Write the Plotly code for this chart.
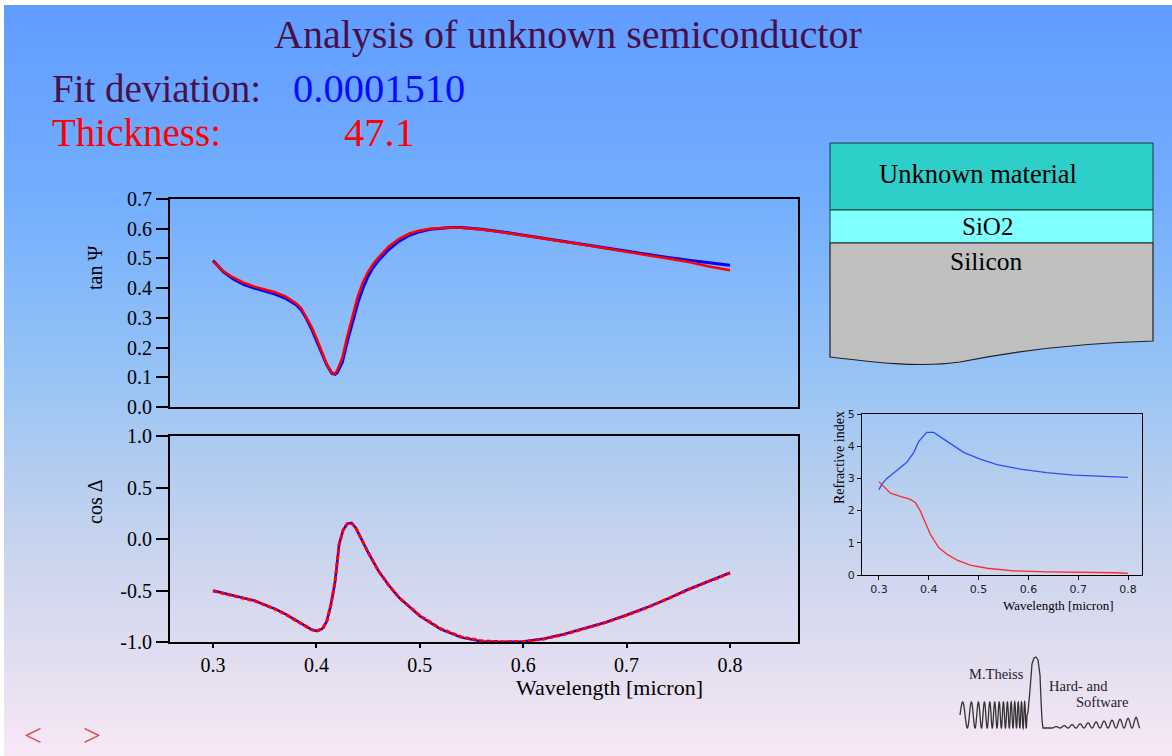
import base64
import numpy as np
import plotly.graph_objects as go

W, H = 1172, 756

# ---- tan(Psi): measured (blue) and fitted (red) ----
wl_tan = [0.300, 0.305, 0.31, 0.32, 0.33, 0.34, 0.35, 0.36, 0.37, 0.38, 0.385, 0.39, 0.395,
          0.40, 0.405, 0.41, 0.415, 0.418, 0.42, 0.425, 0.43, 0.435, 0.44, 0.445, 0.45, 0.455,
          0.46, 0.47, 0.48, 0.49, 0.50, 0.51, 0.52, 0.53, 0.54, 0.56, 0.58, 0.60, 0.62, 0.64,
          0.66, 0.68, 0.70, 0.72, 0.74, 0.76, 0.78, 0.80]
tan_meas = [0.493, 0.474, 0.455, 0.430, 0.412, 0.400, 0.390, 0.380, 0.366, 0.345, 0.328, 0.300,
            0.265, 0.225, 0.180, 0.142, 0.113, 0.110, 0.115, 0.150, 0.222, 0.290, 0.350, 0.400,
            0.440, 0.470, 0.493, 0.530, 0.558, 0.578, 0.590, 0.598, 0.602, 0.604, 0.604, 0.598,
            0.589, 0.578, 0.567, 0.556, 0.545, 0.534, 0.523, 0.513, 0.503, 0.494, 0.485, 0.477]
tan_fit = [0.490, 0.472, 0.457, 0.435, 0.418, 0.405, 0.396, 0.386, 0.372, 0.350, 0.334, 0.305,
           0.272, 0.232, 0.185, 0.145, 0.115, 0.112, 0.122, 0.165, 0.240, 0.310, 0.372, 0.420,
           0.455, 0.482, 0.503, 0.540, 0.566, 0.584, 0.594, 0.600, 0.603, 0.604, 0.603, 0.597,
           0.588, 0.578, 0.567, 0.556, 0.545, 0.533, 0.522, 0.511, 0.500, 0.488, 0.473, 0.460]

# ---- cos(Delta): measured (blue) and fitted (red, dashed) ----
wl_cos = [0.30, 0.32, 0.34, 0.36, 0.37, 0.38, 0.39, 0.395, 0.40, 0.403, 0.406, 0.41, 0.414,
          0.418, 0.422, 0.426, 0.43, 0.434, 0.438, 0.445, 0.45, 0.46, 0.47, 0.48, 0.49, 0.50,
          0.52, 0.54, 0.56, 0.58, 0.60, 0.62, 0.64, 0.66, 0.68, 0.70, 0.72, 0.74, 0.76, 0.78, 0.80]
cos_meas = [-0.500, -0.548, -0.598, -0.678, -0.728, -0.788, -0.852, -0.878, -0.893, -0.885,
            -0.868, -0.800, -0.640, -0.420, -0.050, 0.090, 0.150, 0.155, 0.110, -0.030, -0.130,
            -0.310, -0.450, -0.570, -0.660, -0.748, -0.875, -0.955, -0.995, -1.000, -0.995,
            -0.968, -0.922, -0.868, -0.808, -0.738, -0.663, -0.578, -0.488, -0.408, -0.328]
cos_fit = [-0.505, -0.550, -0.600, -0.680, -0.730, -0.790, -0.855, -0.880, -0.895, -0.885,
           -0.870, -0.800, -0.640, -0.420, -0.050, 0.090, 0.150, 0.155, 0.110, -0.030, -0.130,
           -0.310, -0.450, -0.570, -0.660, -0.745, -0.870, -0.950, -0.990, -0.998, -0.997,
           -0.970, -0.925, -0.870, -0.810, -0.740, -0.665, -0.580, -0.490, -0.410, -0.330]

# ---- optical constants of the unknown layer ----
wl_n = [0.300, 0.306, 0.316, 0.336, 0.356, 0.370, 0.380, 0.396, 0.410, 0.430, 0.450, 0.470,
        0.503, 0.537, 0.584, 0.637, 0.691, 0.751, 0.800]
n_vals = [2.65, 2.82, 3.00, 3.24, 3.50, 3.81, 4.15, 4.43, 4.43, 4.22, 4.01, 3.81, 3.60, 3.43,
          3.29, 3.18, 3.10, 3.06, 3.03]
wl_k = [0.300, 0.309, 0.323, 0.343, 0.363, 0.373, 0.383, 0.393, 0.403, 0.420, 0.437, 0.457,
        0.483, 0.517, 0.570, 0.637, 0.704, 0.778, 0.800]
k_vals = [2.90, 2.75, 2.54, 2.44, 2.35, 2.25, 1.99, 1.63, 1.27, 0.85, 0.64, 0.46, 0.31, 0.21,
          0.13, 0.10, 0.09, 0.07, 0.05]

tan_ticks = [0.0, 0.1, 0.2, 0.3, 0.4, 0.5, 0.6, 0.7]
cos_ticks = [-1.0, -0.5, 0.0, 0.5, 1.0]
wl_ticks = [0.3, 0.4, 0.5, 0.6, 0.7, 0.8]
n_ticks = [0, 1, 2, 3, 4, 5]

SERIF = "Liberation Serif"
SANS = "DejaVu Sans"


def fx(p):
    return p / W


def fy(p):
    return 1 - p / H


fig = go.Figure()

fig.add_trace(go.Scatter(x=wl_tan, y=tan_meas, mode="lines", line=dict(color="#0000ff", width=3),
                         xaxis="x", yaxis="y"))
fig.add_trace(go.Scatter(x=wl_tan, y=tan_fit, mode="lines", line=dict(color="#ff0000", width=2.5),
                         xaxis="x", yaxis="y"))
fig.add_trace(go.Scatter(x=wl_cos, y=cos_meas, mode="lines", line=dict(color="#0000ff", width=2.5),
                         xaxis="x2", yaxis="y2"))
fig.add_trace(go.Scatter(x=wl_cos, y=cos_fit, mode="lines",
                         line=dict(color="#ff0000", width=3, dash="5px,2px"),
                         xaxis="x2", yaxis="y2"))
fig.add_trace(go.Scatter(x=wl_n, y=n_vals, mode="lines", line=dict(color="#2f4cff", width=1.3),
                         xaxis="x3", yaxis="y3"))
fig.add_trace(go.Scatter(x=wl_k, y=k_vals, mode="lines", line=dict(color="#ff2a2a", width=1.3),
                         xaxis="x3", yaxis="y3"))

main_x_dom = [fx(170), fx(798)]
x_range = [0.2584, 0.8658]
frame = dict(showline=True, linecolor="black", linewidth=2, mirror=True, showgrid=False,
             zeroline=False, automargin=False)
thin = dict(showline=True, linecolor="black", linewidth=1, mirror=True, showgrid=False,
            zeroline=False, automargin=False)

layout = dict(
    template="none",
    width=W, height=H, margin=dict(l=0, r=0, t=0, b=0, pad=0, autoexpand=False),
    showlegend=False, paper_bgcolor="white", plot_bgcolor="rgba(0,0,0,0)",
    xaxis=dict(domain=main_x_dom, range=x_range, anchor="y", showticklabels=False, ticks="",
               **frame),
    yaxis=dict(domain=[fy(407), fy(199)], range=[0, 0.7], anchor="x", tickmode="array",
               tickvals=tan_ticks, ticktext=[f"{v:.1f}" for v in tan_ticks], ticks="outside",
               ticklen=12, tickwidth=2, tickcolor="black",
               tickfont=dict(family=SERIF, size=20, color="black"), **frame),
    xaxis2=dict(domain=main_x_dom, range=x_range, anchor="y2", tickmode="array",
                tickvals=wl_ticks, ticktext=[f"{v:.1f}" for v in wl_ticks], ticks="outside",
                ticklen=4, tickwidth=2, tickcolor="black",
                tickfont=dict(family=SERIF, size=20, color="black"), **frame),
    yaxis2=dict(domain=[fy(642), fy(436)], range=[-1, 1], anchor="x2", tickmode="array",
                tickvals=cos_ticks, ticktext=[f"{v:.1f}" for v in cos_ticks], ticks="outside",
                ticklen=12, tickwidth=2, tickcolor="black",
                tickfont=dict(family=SERIF, size=20, color="black"), **frame),
    xaxis3=dict(domain=[fx(862), fx(1142)], range=[0.266, 0.828], anchor="y3", tickmode="array",
                tickvals=wl_ticks, ticktext=[f"{v:.1f}" for v in wl_ticks], ticks="outside",
                ticklen=4, tickwidth=1, tickcolor="black",
                tickfont=dict(family=SANS, size=11, color="#222222"), **thin),
    yaxis3=dict(domain=[fy(575), fy(414)], range=[0, 5], anchor="x3", tickmode="array",
                tickvals=n_ticks, ticktext=[str(v) for v in n_ticks], ticks="outside",
                ticklen=4, tickwidth=1, tickcolor="black",
                tickfont=dict(family=SANS, size=11, color="#222222"), **thin),
)

# vertical background gradient (blue at the top fading to pale lilac)
stops = [(0.0, "#609cff"), (0.25, "#72aefe"), (0.5, "#98c4f5"), (0.62, "#b3cdef"),
         (0.75, "#cdd6ee"), (0.88, "#e3def0"), (1.0, "#f8e8f6")]
svg = ("<svg xmlns='http://www.w3.org/2000/svg' width='1168' height='751' "
       "preserveAspectRatio='none'><defs><linearGradient id='g' x1='0' y1='0' x2='0' y2='1'>"
       + "".join(f"<stop offset='{o}' stop-color='{c}'/>" for o, c in stops)
       + "</linearGradient></defs><rect width='1168' height='751' fill='url(#g)'/></svg>")
src = "data:image/svg+xml;base64," + base64.b64encode(svg.encode()).decode()
layout["images"] = [dict(source=src, xref="paper", yref="paper", x=fx(4), y=fy(5),
                         sizex=1 - fx(4), sizey=fy(5), sizing="stretch", layer="below",
                         xanchor="left", yanchor="top")]

# layer stack diagram
shapes = []
shapes.append(dict(type="rect", xref="paper", yref="paper", x0=fx(830), x1=fx(1153),
                   y0=fy(210), y1=fy(143), fillcolor="#2ecfc8",
                   line=dict(color="#1a3a3a", width=1)))
shapes.append(dict(type="rect", xref="paper", yref="paper", x0=fx(830), x1=fx(1153),
                   y0=fy(243), y1=fy(210), fillcolor="#80ffff",
                   line=dict(color="#1a3a3a", width=1)))


def pt(x, y):
    return f"{fx(x):.5f},{fy(y):.5f}"


si_path = ("M " + pt(830, 243) + " L " + pt(1153, 243) + " L " + pt(1153, 341)
           + " C " + pt(1080, 343) + " " + pt(1010, 352) + " " + pt(960, 362)
           + " C " + pt(920, 368) + " " + pt(870, 362) + " " + pt(830, 357) + " Z")
shapes.append(dict(type="path", xref="paper", yref="paper", path=si_path, fillcolor="#c0c0c0",
                   line=dict(color="#202020", width=1.2)))

# logo wiggle: chirped wave, a tall peak and a growing ripple
t = np.linspace(0, 1, 400)
lx1 = 960 + 67 * t
ly1 = 715 - 13 * np.sin(2 * np.pi * (6 * t + 8 * t ** 2))
peak_x = [1028, 1030, 1032, 1034, 1036, 1038, 1040, 1041, 1042, 1043, 1052]
peak_y = [712, 690, 664, 658, 657, 660, 675, 700, 720, 728, 728]
t2 = np.linspace(0, 1, 300)
lx2 = 1052 + 88 * t2
amp = 1 + 10 * t2
ly2 = 728 - amp * (1 - np.cos(2 * np.pi * 11 * t2)) / 2
xs = list(lx1) + peak_x + list(lx2)
ys = list(ly1) + peak_y + list(ly2)
logo_path = "M " + " L ".join(pt(a, b) for a, b in zip(xs, ys))
shapes.append(dict(type="path", xref="paper", yref="paper", path=logo_path,
                   line=dict(color="#333333", width=1.3)))
layout["shapes"] = shapes


def label(text, x, y, size, color="black", family=SERIF, xanchor="center", angle=0):
    return dict(text=text, x=fx(x), y=fy(y), xref="paper", yref="paper", showarrow=False,
                xanchor=xanchor, yanchor="middle", textangle=angle,
                font=dict(family=family, size=size, color=color))


PURPLE = "#48104a"
layout["annotations"] = [
    label("Analysis of unknown semiconductor", 568, 34, 40, PURPLE),
    label("Fit deviation:", 50, 88, 39, PURPLE, xanchor="left"),
    label("0.0001510", 291, 88, 40.5, "#0a0aff", xanchor="left"),
    label("Thickness:", 50, 132, 39, "#ff0000", xanchor="left"),
    label("47.1", 342, 132, 40.5, "#ff0000", xanchor="left"),
    label("tan Ψ", 95, 268, 20, angle=-90),
    label("cos Δ", 95, 502, 20, angle=-90),
    label("Wavelength [micron]", 609, 687, 22),
    label("Unknown material", 978, 174, 26.5),
    label("SiO2", 987, 226, 25),
    label("Silicon", 986, 261, 25.5),
    label("Refractive index", 839, 458, 14, angle=-90),
    label("Wavelength [micron]", 1058, 605, 13),
    label("M.Theiss", 996, 674, 14.5, "#222222"),
    label("Hard- and", 1078, 686, 14.5, "#222222"),
    label("Software", 1102, 702, 14.5, "#222222"),
    label("<", 33, 735, 32, "#e04848"),
    label(">", 92, 735, 32, "#e04848"),
]

fig.update_layout(**layout)
fig.write_html("out.html")
